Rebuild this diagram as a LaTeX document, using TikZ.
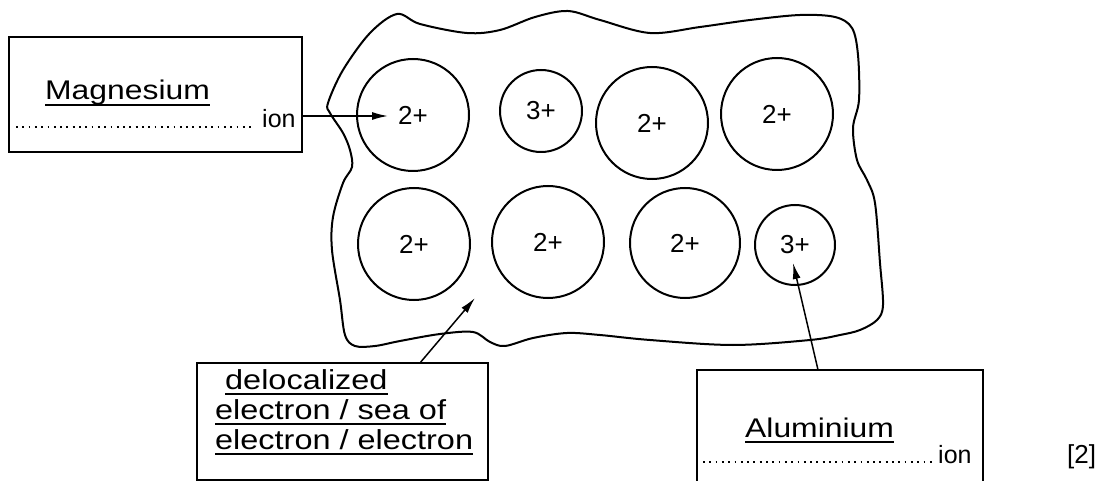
\documentclass[tikz,border=0pt]{standalone}
\usepackage{fontspec}
\setmainfont[FakeStretch=1.18]{Liberation Sans}
\newfontfamily\plainfont{Liberation Sans}
\usetikzlibrary{arrows.meta,calc}
\newsavebox\ulbox
\newcommand\ulx[1]{\sbox\ulbox{#1}\rlap{\rule[-5.8pt]{\wd\ulbox}{1.8pt}}\usebox\ulbox}
\begin{document}
\begin{tikzpicture}[x=1pt,y=-1pt,
  ionc/.style={circle,draw,line width=2pt,inner sep=0pt,font=\plainfont\fontsize{26}{30}\selectfont},
  labbox/.style={rectangle,draw,line width=1.8pt,inner sep=0pt},
  arr/.style={line width=1.5pt,-{Latex[length=16pt,width=8pt]}},
  lab/.style={anchor=base west,inner sep=0pt},
  big/.style={font=\fontsize{27}{32}\selectfont},
  mid/.style={font=\fontsize{27.5}{30}\selectfont},
  small/.style={font=\plainfont\fontsize{25}{30}\selectfont},
  dotline/.style={line width=1.5pt,dash pattern=on 1.8pt off 4.5pt}]
\useasboundingbox (0,0) rectangle (1101,481);
\fill[white] (0,0) rectangle (1101,481);
% metal lattice outline
\draw[line width=2pt] plot[smooth cycle,tension=0.55] coordinates {
 (397,14) (420,24) (467,33) (500,30) (535,17) (568,11) (600,20) (650,33)
 (700,27) (750,20) (800,15) (835,17) (852,28) (858,55) (859,100) (853,128)
 (857,160) (867,180) (875,203) (880,263) (883,305) (877,320) (860,330) (840,335)
 (810,340) (733,345) (650,340) (600,335) (567,333) (533,338) (505,346) (490,342)
 (473,332) (440,334) (400,341) (375,346) (355,346) (345,335) (340,300) (332,250)
 (333,217) (343,183) (352,167) (350,150) (343,133) (330,113) (328,103) (343,70) (370,33)};
% ions
\node[ionc,minimum size=112pt] (c1) at (413,115) {2+};
\node[ionc,minimum size=82pt]  (c2) at (541,111) {3+};
\node[ionc,minimum size=112pt] (c3) at (652,123) {2+};
\node[ionc,minimum size=112pt] (c4) at (777,114) {2+};
\node[ionc,minimum size=112pt] (c5) at (414,244) {2+};
\node[ionc,minimum size=112pt] (c6) at (548,242) {2+};
\node[ionc,minimum size=110pt] (c7) at (685,243) {2+};
\node[ionc,minimum size=80pt]  (c8) at (795,245) {3+};
% label boxes
\node[labbox,minimum width=293pt,minimum height=115pt] (mgbox) at (155.5,94.5) {};
\node[labbox,minimum width=291pt,minimum height=117pt] (delbox) at (342.5,421.5) {};
\node[labbox,minimum width=286pt,minimum height=124pt] (albox) at (840,432) {};
% texts
\node[lab,big] (mgname) at (45,100) {\ulx{Magnesium}};
\draw[dotline] (16,127) -- (252,127);
\node[lab,small] (mgion) at (262,128) {ion};
\node[lab,mid] (del1) at (225,389) {\ulx{delocalized}};
\node[lab,mid] (del2) at (215,419) {\ulx{electron / sea of}};
\node[lab,mid] (del3) at (215,449) {\ulx{electron / electron}};
\node[lab,big] (alname) at (745,437) {\ulx{Aluminium}};
\draw[dotline] (703,462) -- (933,462);
\node[lab,small] (alion) at (938,463) {ion};
\node[lab,font=\plainfont\fontsize{26}{30}\selectfont] (marks) at (1067,463) {[2]};
% arrows
\coordinate (mgtip) at (388,116);
\coordinate (deltip) at (475,298);
\coordinate (altip) at (793,263);
\draw[arr] (mgbox.east |- mgtip) -- (mgtip);
\draw[arr] ($(delbox.north west)!0.767!(delbox.north east)$) -- (deltip);
\draw[arr] ($(albox.north west)!0.423!(albox.north east)$) -- (altip);
\end{tikzpicture}
\end{document}
